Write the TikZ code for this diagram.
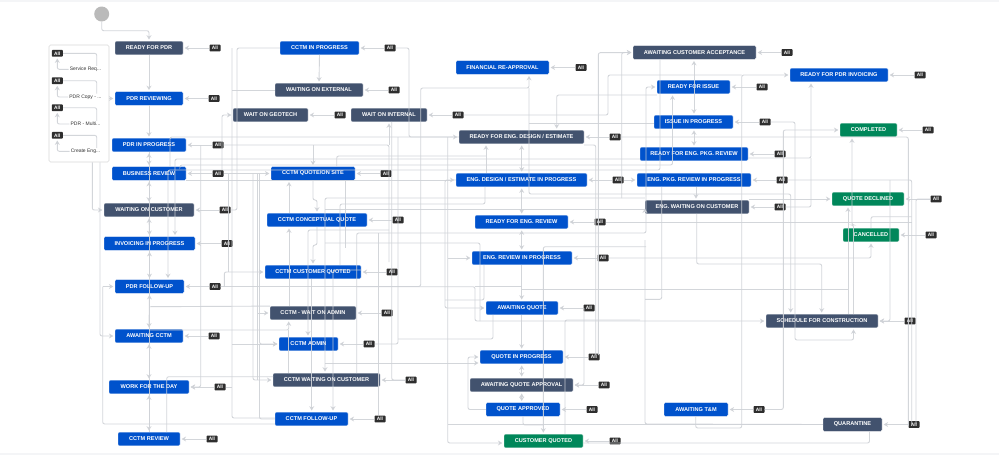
\documentclass[tikz,border=0pt]{standalone}
\usepackage{fontspec}
\setmainfont{Liberation Sans}
\usetikzlibrary{arrows.meta}
\definecolor{jblue}{HTML}{0052CC}
\definecolor{jslate}{HTML}{42526E}
\definecolor{jgreen}{HTML}{00875A}
\definecolor{lc}{HTML}{CFD2D7}
\definecolor{strip}{HTML}{F4F5F7}
\tikzset{
  statbox/.style={text=white,font=\bfseries\fontsize{5.6}{6}\selectfont,rounded corners=1.2pt,inner sep=0pt,minimum height=13.6pt,draw=white,line width=.2pt},
  badge/.style={fill=black!82,text=white,font=\bfseries\fontsize{4.8}{5}\selectfont,rounded corners=.8pt,inner sep=0pt,minimum width=11pt,minimum height=6.8pt},
  glabel/.style={font=\fontsize{5}{6}\selectfont,text=black!80,inner sep=1pt},
  ln/.style={draw=lc,draw opacity=.9,line width=.9pt,rounded corners=2pt},
  ar/.style={ln,-{Stealth[length=4.5pt,width=5pt,fill=lc]},shorten >=1.5pt},
  dar/.style={ln,{Stealth[length=4.5pt,width=5pt,fill=lc]}-{Stealth[length=4.5pt,width=5pt,fill=lc]},shorten >=1.5pt,shorten <=1.5pt}
}
\newcommand{\stat}[7]{%
  \pgfmathsetmacro{\cxv}{(#2+#3)/2}\pgfmathsetmacro{\wv}{#3-#2}%
  \node[statbox,fill=#5,minimum width=\wv pt] (#1) at (\cxv,#4) {#6};
  \node[badge] (#1-all) at (#7,#4) {All};
  \draw[ar] (#1-all.west) -- (#1.east);
}
\newcommand{\glob}[4]{%
  \node[badge] (ga#1) at (57.3,#2) {All};
  \node[glabel] (gl#1) at (85.5,#3) {#4};
  \draw[ar] (gl#1.west) -| (ga#1.south);
  \draw[ln] (ga#1.east) -- (96.7,#2) -- (96.7,0 |- gl#1.north);
}
\begin{document}
\begin{tikzpicture}[x=1pt,y=-1pt]
\useasboundingbox (0,0) rectangle (999,475);
\fill[white] (0,0) rectangle (999,475);
\fill[strip] (0,0) rectangle (999,2);
\fill[strip] (0,453) rectangle (999,455);

% ---- statuses
\stat{rfp}{115}{183}{48}{jslate}{READY FOR PDR}{215}
\stat{prv}{115}{183}{98.5}{jblue}{PDR REVIEWING}{214}
\stat{pip}{112}{186}{145}{jblue}{PDR IN PROGRESS}{218}
\stat{bre}{112}{186}{173.5}{jblue}{BUSINESS REVIEW}{218}
\stat{woc}{104}{194}{210}{jslate}{WAITING ON CUSTOMER}{225}
\stat{iip}{104}{195}{243.5}{jblue}{INVOICING IN PROGRESS}{227}
\stat{pfu}{115}{184}{286.5}{jblue}{PDR FOLLOW-UP}{215}
\stat{acc}{115}{183}{336}{jblue}{AWAITING CCTM}{214}
\stat{wfd}{109}{189}{387}{jblue}{WORK FOR THE DAY}{220}
\stat{crv}{118}{180}{439}{jblue}{CCTM REVIEW}{212}
\stat{cip}{280}{359}{48}{jblue}{CCTM IN PROGRESS}{390}
\stat{wox}{275}{363}{90}{jslate}{WAITING ON EXTERNAL}{394}
\stat{wgt}{233}{308}{115}{jslate}{WAIT ON GEOTECH}{340}
\stat{win}{351}{427}{115}{jslate}{WAIT ON INTERNAL}{458}
\stat{cqs}{271}{355}{173.5}{jblue}{CCTM QUOTE/ON SITE}{386}
\stat{ccq}{267}{367}{220}{jblue}{CCTM CONCEPTUAL QUOTE}{398}
\stat{ccu}{265}{361}{272}{jblue}{CCTM CUSTOMER QUOTED}{392}
\stat{cwa}{270}{356}{313}{jslate}{CCTM - WAIT ON ADMIN}{387}
\stat{cad}{279}{338}{344}{jblue}{CCTM ADMIN}{369}
\stat{cwc}{273}{380}{380}{jslate}{CCTM WAITING ON CUSTOMER}{411}
\stat{cfu}{275}{348}{419}{jblue}{CCTM FOLLOW-UP}{380}
\stat{fin}{456}{549}{67.5}{jblue}{FINANCIAL RE-APPROVAL}{581}
\stat{rde}{459}{584}{137}{jslate}{READY FOR ENG. DESIGN / ESTIMATE}{615}
\stat{edp}{456}{587}{180}{jblue}{ENG. DESIGN / ESTIMATE IN PROGRESS}{618}
\stat{rer}{475}{568}{222}{jblue}{READY FOR ENG. REVIEW}{600}
\stat{erp}{472}{572}{258}{jblue}{ENG. REVIEW IN PROGRESS}{603}
\stat{awq}{486}{558}{308}{jblue}{AWAITING QUOTE}{589}
\stat{qip}{480}{563}{357}{jblue}{QUOTE IN PROGRESS}{594}
\stat{aqa}{470}{573}{385}{jslate}{AWAITING QUOTE APPROVAL}{604}
\stat{qap}{486}{560}{409.5}{jblue}{QUOTE APPROVED}{592}
\stat{cuq}{504}{583}{441}{jgreen}{CUSTOMER QUOTED}{615}
\stat{aca}{633}{756}{52.5}{jslate}{AWAITING CUSTOMER ACCEPTANCE}{787}
\stat{rfi}{657}{730}{87}{jblue}{READY FOR ISSUE}{762}
\stat{iss}{654}{733}{122}{jblue}{ISSUE IN PROGRESS}{765}
\stat{rpk}{640}{748}{154}{jblue}{READY FOR ENG. PKG. REVIEW}{780}
\stat{pkp}{637}{751}{180}{jblue}{ENG. PKG. REVIEW IN PROGRESS}{782}
\stat{ewc}{645}{749}{207}{jslate}{ENG. WAITING ON CUSTOMER}{780}
\stat{rpi}{790}{888}{75}{jblue}{READY FOR PDR INVOICING}{920}
\stat{cmp}{840}{897}{130}{jgreen}{COMPLETED}{928}
\stat{qde}{832}{904}{199}{jgreen}{QUOTE DECLINED}{936}
\stat{can}{843}{899}{235}{jgreen}{CANCELLED}{931}
\stat{sch}{766}{878}{321}{jslate}{SCHEDULE FOR CONSTRUCTION}{910}
\stat{atm}{664}{728}{409.5}{jblue}{AWAITING T\&M}{759}
\stat{qua}{823}{882}{424.5}{jslate}{QUARANTINE}{914}

% ---- start and global box
\node[circle,fill=black!27,minimum size=15pt,inner sep=0pt] (start) at (101.7,14) {};
\draw[ar] (start.south) -- (start.south |- 0,30.7) -- (149,30.7) -- (rfp.north);
\node[draw=black!15,fill=white,rounded corners=1.5pt,minimum width=60pt,minimum height=117pt,inner sep=0pt,line width=.6pt] (gbox) at (79,103.5) {};
\glob{1}{53.3}{69.3}{Service Req...}
\glob{2}{80.7}{97}{PDR Copy - ...}
\glob{3}{107.7}{124}{PDR - Multi...}
\glob{4}{135.3}{151.3}{Create Eng...}
\draw[ar] (gbox.east |- prv.west) -- (prv.west);
\draw[ar] (92.3,0 |- gbox.south) |- (woc.west);
\draw[ar] (100,0 |- gbox.south) |- (acc.west);
\draw[ar] (102.7,0 |- pfu.west) -- (pfu.west);
\draw[ln] (102.7,0 |- pfu.west) -- (102.7,424) -- (cfu.west |- 0,424);

% ---- central column, left
\draw[ar] (rfp.south) -- (prv.north);
\draw[ar] (prv.south) -- (pip.north);
\draw[dar] (pip.south) -- (bre.north);
\draw[dar] (bre.south) -- (woc.north);
\draw[dar] (woc.south) -- (iip.north);
\draw[dar] (iip.south) -- (pfu.north);
\draw[dar] (pfu.south) -- (acc.north);
\draw[dar] (acc.south) -- (wfd.north);
\draw[dar] (wfd.south) -- (crv.north);
\draw[ln] (149,0 |- pip.south) -- (149,0 |- crv.north);

% ---- CCTM IN PROGRESS fan
\draw[ar] (cip.south) -- (wox.north);
\draw[ln] (cip.west) -- (237,0 |- cip.west) -- (237,210) -- (woc-all.east);
\draw[ln] (232,0 |- cip.west) -- (232,418) -- (cfu.west |- 0,418);
\draw[ln] (wox.west) -- (232,0 |- wox.west);
\draw[ar] (232,0 |- cad.west) -- (cad.west);
\draw[ln] (wfd-all.east) -- (232,0 |- wfd-all.east);
\draw[ar] (222,0 |- bre-all.north) |- (wgt.west);
\draw[ar] (bre-all.east) -- (cqs.west);

% ---- long horizontals from the left column
\draw[ar] (170,0 |- bre.north) |- (rde.west);
\draw[ln] (pip-all.east) -- (389,145) -- (389,262);
\draw[ar] (389,145) -- (389,0 |- win.south);
\draw[ar] (cqs.north |- 0,145) -- (cqs.north);
\draw[ar] (186,0 |- edp.west) -- (edp.west);
\draw[ar] (rpk.west |- 0,159) -- (175,159) -- (175,0 |- iip.north);
\draw[ar] (660,0 |- aca.south) -- (660,170) -- (168,170) -- (168,0 |- pfu.north);
\draw[ar] (180,0 |- bre.north) -- (180,165) -- (672.5,165) -- (672.5,0 |- rfi.south);
\draw[ar] (200.7,0 |- pip.east) |- (wfd.east);
\draw[ar] (pfu-all.east) -- (420.7,0 |- pfu-all.east) -- (420.7,88) -- (529,88) -- (529,0 |- fin.south);
\draw[ar] (224.3,0 |- pfu-all.east) -- (224.3,272) -- (ccu.west);
\draw[ln] (228,0 |- bre-all.east) -- (228,272);
\draw[ar] (acc.north |- 0,330) -- (288.7,330) -- (288.7,0 |- cwa.south);
\draw[ln] (288.7,330) -- (288.7,0 |- cwc.north);
\draw[ln] (pfu.south |- 0,306.7) -- (cwa.north west);
\draw[ln] (166.7,0 |- crv.north) -- (166.7,376.7) -- (273,376.7);

% ---- left verticals of the CCTM column
\draw[ar] (253,173.5) -- (253,380) -- (cwc.west);
\draw[ln] (257,173.5) -- (257,380);
\draw[ar] (259.5,173.5) -- (259.5,0 |- cad.west) -- (cad.west);
\draw[ln] (259.5,0 |- cad.west) -- (259.5,419) -- (cfu.west);
\draw[ar] (258,0 |- cwa.west) -- (cwa.west);

% ---- CCTM column internals
\draw[ar] (313,0 |- cqs.south) -- (313,200) -- (317,200) -- (317,0 |- ccq.north);
\draw[ar] (317,0 |- ccq.south) -- (317,245) -- (313,245) -- (313,0 |- ccu.north);
\draw[ar] (289,0 |- ccq.north) -- (289,0 |- cqs.south);
\draw[ar] (289,0 |- cwa.north) -- (289,0 |- ccq.south);
\draw[ar] (311.7,0 |- ccu.south) -- (311.7,0 |- cfu.north);
\draw[ar] (ccu.east |- 0,270) -- (333,270) -- (333,0 |- cfu.north);
\draw[ar] (389,230) -- (308,230) -- (308,0 |- cad.north);
\draw[ln] (336.7,0 |- cqs.north) -- (336.7,156) -- (486,156);
\draw[ar] (486,0 |- edp.north) -- (486,0 |- rde.south);
\draw[ln] (345,180) -- (345,248);
\draw[ln] (485,0 |- edp.south) -- (485,204) -- (340,204) -- (340,0 |- ccu.north);
\draw[ar] (ewc.west |- 0,198) -- (325,198) -- (325,0 |- cwc.north);
\draw[ar] (621.7,198) -- (621.7,52.5) -- (aca.west);
\draw[ar] (ewc.west |- 0,209.3) -- (ewc.west);
\draw[ln] (ewc.west |- 0,209.3) -- (325,209.3);
\draw[ar] (356.7,0 |- cwc.north) -- (356.7,233) -- (646,233) -- (646,0 |- rfi.west) -- (rfi.west);
\draw[ar] (356.7,286.7) -- (475,286.7) -- (475,321) -- (sch.west);
\draw[ln] (475,286.7) -- (521.7,286.7);
\draw[ln] (391.7,0 |- win.south) |- (cwc-all.west);
\draw[ln] (378.3,233) -- (378.3,0 |- cfu-all.north);
\draw[ln] (398,0 |- rde.west) |- (cad-all.east);
\draw[ln] (cip-all.east) -- (409,0 |- cip-all.east) -- (409,137) -- (rde.west);
\draw[ln] (325,243) -- (480,243) -- (480,321);
\draw[ar] (325,363) -- (480,363);
\draw[ln] (493,0 |- awq.south) -- (493,339) -- (398,339);
\draw[ar] (edp.west) -- (445,0 |- edp.west) -- (445,0 |- awq.west) -- (awq.west);
\draw[ar] (447.7,0 |- rde.west) -- (447.7,443) -- (cuq.west |- 0,443);
\draw[ar] (447.7,0 |- erp.west) -- (erp.west);
\draw[ln] (484,0 |- erp.south) -- (484,300) -- (445,300);

% ---- central column, engineering
\draw[dar] (521.7,0 |- rde.south) -- (521.7,0 |- edp.north);
\draw[dar] (521.7,0 |- edp.south) -- (521.7,0 |- rer.north);
\draw[dar] (521.7,0 |- rer.south) -- (521.7,0 |- erp.north);
\draw[ar] (521.7,0 |- erp.south) -- (521.7,0 |- awq.north);
\draw[ar] (521.7,0 |- awq.south) -- (521.7,0 |- qip.north);
\draw[dar] (521.7,0 |- qip.south) -- (521.7,0 |- aqa.north);
\draw[dar] (521.7,0 |- aqa.south) -- (521.7,0 |- qap.north);
\draw[ln] (523,0 |- qap.south) -- (523,425) -- (543.3,425);
\draw[ar] (646,246.7) -- (543.3,246.7) -- (543.3,0 |- cuq.north);
\draw[ln] (565,0 |- cuq.north) -- (565,320) -- (640,320);
\draw[ar] (qap.west) -- (468,0 |- qap.west) -- (468,0 |- qip.west) -- (qip.west);
\draw[ar] (584,0 |- awq.east) |- (aqa.east);
\draw[ln] (rde.east |- 0,145) -- (595.7,145) -- (595.7,355);
\draw[ar] (598.3,355) -- (598.3,52.7) -- (aca.west);

% ---- right part
\draw[ar] (rfi.west |- 0,95) -- (556.7,95) -- (556.7,0 |- rde.north);
\draw[ln] (iss.west |- 0,123) -- (529,123);
\draw[ar] (529,88) -- (529,194) -- (790.7,194) -- (790.7,0 |- sch.north);
\draw[ln] (rde-all.east) -- (908.3,0 |- rde-all.east) -- (908.3,424) -- (qua-all.west);
\draw[ar] (edp-all.east) -- (pkp.west);
\draw[ln] (pkp-all.east) -- (911.7,0 |- pkp-all.east) -- (911.7,424);
\draw[ar] (890,0 |- pkp-all.east) -- (890,321) -- (sch.east);
\draw[ln] (rer-all.east) -- (911.7,0 |- rer-all.east);
\draw[ln] (871,0 |- can.north) -- (871,216.7) -- (911.7,216.7);
\draw[ar] (erp-all.east) -- (871,0 |- erp-all.east) -- (871,0 |- can.south);
\draw[ln] (qde-all.west) -- (916,0 |- qde-all.west) -- (916,424);
\draw[ar] (ewc.east |- 0,199) -- (qde.west);
\draw[ar] (rpk.east |- 0,158) -- (811,158) -- (811,0 |- rpi.south);
\draw[ln] (ewc-all.east) -- (811,0 |- ewc-all.east) -- (811,158);
\draw[ar] (atm-all.east) -- (783.3,0 |- atm-all.east) -- (783.3,130) -- (cmp.west);
\draw[ar] (695.7,0 |- atm.south) -- (695.7,428) -- (741.7,428) -- (741.7,75) -- (rpi.west);
\draw[ln] (win-all.east) -- (608,0 |- win-all.east) -- (608,75) -- (741.7,75);
\draw[ar] (iss-all.east) -- (795,0 |- iss-all.east) -- (795,340) -- (853.5,340) -- (853.5,0 |- sch.south);
\draw[ar] (696.7,0 |- ewc.south) -- (696.7,264) -- (821.7,264) -- (821.7,0 |- sch.north);
\draw[ln] (521.7,289.3) -- (848,289.3);
\draw[ar] (848,0 |- sch.north) -- (848,0 |- qde.south);
\draw[ar] (853.5,0 |- sch.north) -- (853.5,225) -- (852,225) -- (852,0 |- cmp.south);
\draw[ln] (661.7,0 |- pkp.south) -- (661.7,299.3) -- (645,299.3);
\draw[ln] (645,240) -- (645,424) -- (qua.west);
\draw[ln] (qua.west) -- (447.7,0 |- qua.west);
\draw[ln] (869.5,0 |- qua.south) -- (869.5,443) -- (cuq.east |- 0,443);
\draw[dar] (694,0 |- aca.south) -- (694,0 |- iss.north);
\draw[dar] (694,0 |- iss.south) -- (694,0 |- rpk.north);
\draw[ar] (696,0 |- pkp.south) -- (696,0 |- ewc.north);
\end{tikzpicture}
\end{document}
